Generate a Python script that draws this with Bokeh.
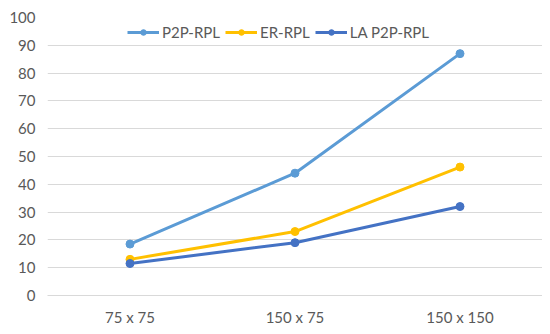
from bokeh.plotting import figure
from bokeh.models import Range1d, Legend, LegendItem, FixedTicker
from bokeh.embed import file_html
from bokeh.resources import INLINE

categories = ["75 x 75", "150 x 75", "150 x 150"]
p2p_rpl = [18.5, 44, 87]
er_rpl = [13, 23, 46.2]
la_p2p_rpl = [11.5, 19, 32]
series_names = ["P2P-RPL", "ER-RPL", "LA P2P-RPL"]
colors = ["#5B9BD5", "#FFC000", "#4472C4"]

FONT = "Lato"
TXT = "#595959"

p = figure(x_range=categories, y_range=Range1d(0, 100), width=542, height=328,
           output_backend="svg", toolbar_location=None,
           min_border_left=47, min_border_right=0, min_border_top=17, min_border_bottom=30)
p.outline_line_color = None
p.background_fill_color = "white"

items = []
for name, vals, c in zip(series_names, [p2p_rpl, er_rpl, la_p2p_rpl], colors):
    l = p.line(categories, vals, line_color=c, line_width=3)
    s = p.scatter(categories, vals, size=8, fill_color=c, line_color=c)
    items.append(LegendItem(label=name, renderers=[l, s]))

legend = Legend(items=items, orientation="horizontal", location=(80, 254),
                background_fill_color="white", background_fill_alpha=1,
                border_line_color=None, label_text_font=FONT, label_text_font_size="15px",
                label_text_color=TXT, glyph_width=32, glyph_height=14, spacing=5,
                label_standoff=3, padding=2, margin=0)
p.add_layout(legend, "center")

p.yaxis.ticker = FixedTicker(ticks=list(range(0, 101, 10)))
p.yaxis.axis_line_color = None
p.yaxis.major_tick_line_color = None
p.yaxis.minor_tick_line_color = None
p.yaxis.major_tick_out = 0
p.yaxis.major_label_text_font = FONT
p.yaxis.major_label_text_font_size = "15px"
p.yaxis.major_label_text_color = TXT
p.yaxis.major_label_standoff = 12

p.xaxis.axis_line_color = "#D9D9D9"
p.xaxis.major_tick_line_color = None
p.xaxis.minor_tick_line_color = None
p.xaxis.major_tick_out = 0
p.xaxis.major_tick_in = 0
p.xaxis.axis_label_standoff = 0
p.xaxis.major_label_text_font = FONT
p.xaxis.major_label_text_font_size = "15px"
p.xaxis.major_label_text_color = TXT
p.xaxis.major_label_standoff = 12

p.xgrid.grid_line_color = None
p.ygrid.grid_line_color = "#D9D9D9"
p.ygrid.grid_line_width = 1

open("out.html", "w").write(file_html(p, INLINE))
